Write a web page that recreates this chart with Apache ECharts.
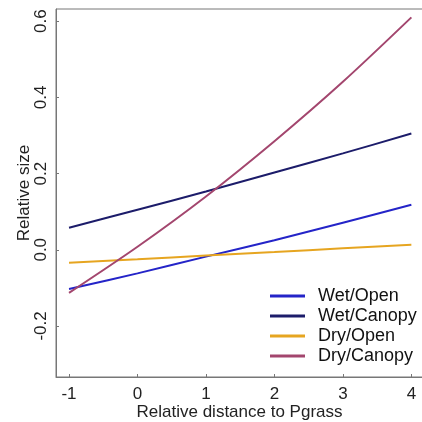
<!DOCTYPE html>
<html>
<head>
  <meta charset="utf-8">
  <title>Relative size</title>
  <script src="https://cdn.jsdelivr.net/npm/echarts@6/dist/echarts.min.js"></script>
</head>
<body style="margin:0;background:#fff;">
  <div id="main" style="width:422px;height:422px;"></div>
  <script type="text/javascript">
    // x positions (relative distance) and fitted values
    var xs = [-1, 0, 1, 2, 3, 4];
    var wetOpen = [-0.103, -0.062, -0.018, 0.025, 0.071, 0.118];
    var wetCanopy = [0.058, 0.105, 0.153, 0.203, 0.253, 0.305];
    var dryOpen = [-0.034, -0.025, -0.015, -0.006, 0.004, 0.013];
    var dryCanopy = [-0.113, 0.008, 0.140, 0.285, 0.441, 0.610];
    var xTicks = [-1, 0, 1, 2, 3, 4];
    var yTicks = [-0.2, 0.0, 0.2, 0.4, 0.6];

    function pairs(vals) {
      return xs.map(function (x, i) { return [x, vals[i]]; });
    }

    var font = 'Liberation Sans';
    var myChart = echarts.init(document.getElementById('main'));

    function line(name, vals, color) {
      return {
        name: name,
        type: 'line',
        data: pairs(vals),
        smooth: 0.3,
        symbol: 'none',
        lineStyle: { color: color, width: 2 },
        itemStyle: { color: color }
      };
    }

    var option = {
      animation: false,
      grid: {
        left: 56, top: 9, right: -1, bottom: 45,
        outerBoundsMode: 'none',
        show: true, borderColor: '#777', borderWidth: 1
      },
      legend: {
        left: 265, top: 282,
        orient: 'vertical',
        itemWidth: 35, itemHeight: 3, itemGap: 2,
        icon: 'rect',
        textStyle: { fontFamily: font, fontSize: 18, color: '#111', padding: [0, 0, 0, 8] },
        data: ['Wet/Open', 'Wet/Canopy', 'Dry/Open', 'Dry/Canopy']
      },
      xAxis: {
        type: 'value',
        min: -1.19, max: 4.17,
        name: 'Relative distance to Pgrass',
        nameLocation: 'middle',
        nameGap: 27,
        nameMoveOverlap: false,
        nameTextStyle: { fontFamily: font, fontSize: 17, color: '#222' },
        axisLine: { show: true, onZero: false, lineStyle: { color: '#777' } },
        axisTick: { show: true, inside: true, length: 3, customValues: xTicks, lineStyle: { color: '#777' } },
        axisLabel: { customValues: xTicks, fontFamily: font, fontSize: 17, color: '#222', margin: 9 },
        splitLine: { show: false }
      },
      yAxis: {
        type: 'value',
        min: -0.334, max: 0.632,
        name: 'Relative size',
        nameLocation: 'middle',
        nameGap: 23,
        nameMoveOverlap: false,
        nameTextStyle: { fontFamily: font, fontSize: 17, color: '#222' },
        axisLine: { show: true, onZero: false, lineStyle: { color: '#777' } },
        axisTick: { show: true, inside: true, length: 3, customValues: yTicks, lineStyle: { color: '#777' } },
        axisLabel: {
          customValues: yTicks, rotate: 90, fontFamily: font, fontSize: 17, color: '#222', margin: 6,
          formatter: function (v) { return v.toFixed(1); }
        },
        splitLine: { show: false }
      },
      series: [
        line('Wet/Open', wetOpen, '#2424c8'),
        line('Wet/Canopy', wetCanopy, '#1c1c6a'),
        line('Dry/Open', dryOpen, '#e6a520'),
        line('Dry/Canopy', dryCanopy, '#a3466e')
      ]
    };

    myChart.setOption(option);
  </script>
</body>
</html>
